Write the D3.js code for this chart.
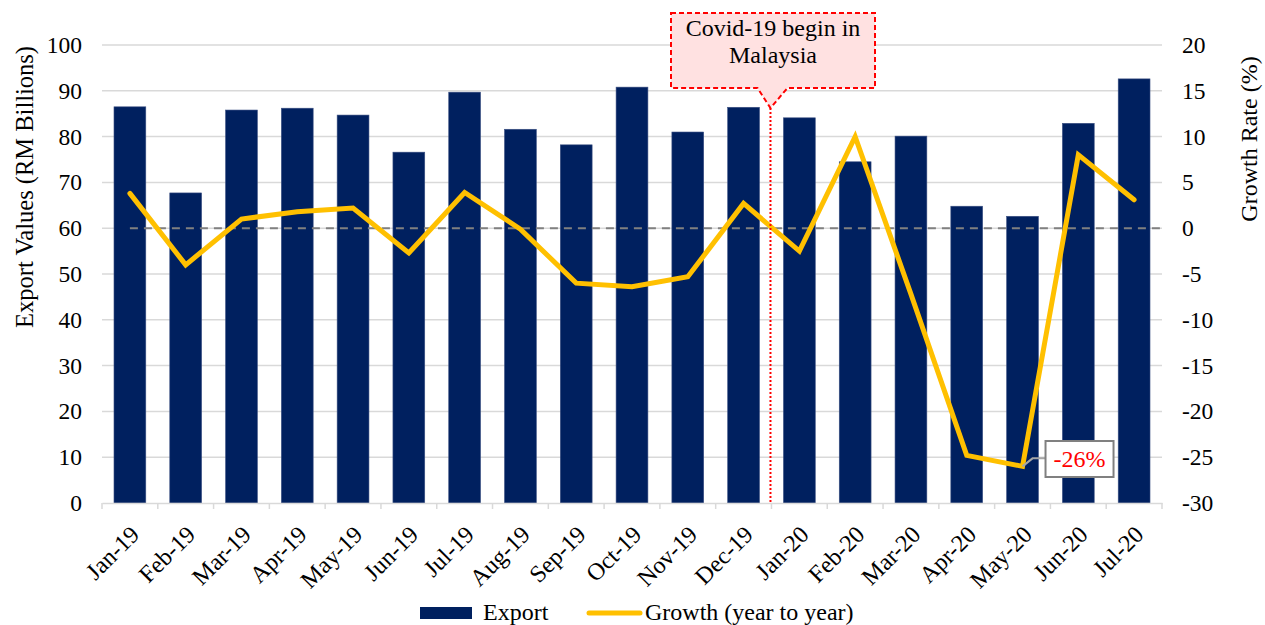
<!DOCTYPE html>
<html><head><meta charset="utf-8">
<script src="https://cdn.jsdelivr.net/npm/d3@7"></script>
<style>
body{margin:0;background:#fff;}
text{font-family:"Liberation Serif","Times New Roman",serif;}
</style></head>
<body><svg id="c" width="1265" height="625"></svg>
<script>
const months = ["Jan-19","Feb-19","Mar-19","Apr-19","May-19","Jun-19","Jul-19","Aug-19","Sep-19","Oct-19","Nov-19","Dec-19","Jan-20","Feb-20","Mar-20","Apr-20","May-20","Jun-20","Jul-20"];
const exportValues = [86.5,67.7,85.8,86.2,84.7,76.6,89.7,81.6,78.2,90.8,81.0,86.4,84.1,74.5,80.1,64.8,62.6,82.9,92.6];
const growthValues = [3.8,-4.0,1.0,1.8,2.2,-2.7,3.9,-0.1,-6.0,-6.4,-5.3,2.7,-2.5,10.0,-7.2,-24.8,-26.0,8.0,3.1];
const leftTicks = [0,10,20,30,40,50,60,70,80,90,100];
const rightTicks = [-30,-25,-20,-15,-10,-5,0,5,10,15,20];
const covidLabel = ["Covid-19 begin in","Malaysia"];
const minLabel = "-26%";

const FS = 24;
const svg = d3.select("#c");
const L = 102, R = 1162, T = 45, B = 503;
const x = d3.scaleBand().domain(months).range([L,R]).paddingInner(0.43).paddingOuter(0.215);
const yL = d3.scaleLinear().domain([0,100]).range([B,T]);
const yR = d3.scaleLinear().domain([-30,20]).range([B,T]);

// gridlines
svg.append("g").selectAll("line").data(leftTicks.filter(d=>d>0)).join("line")
  .attr("x1",L).attr("x2",R).attr("y1",d=>yL(d)).attr("y2",d=>yL(d))
  .attr("stroke","#d9d9d9").attr("stroke-width",1.5);

// bars
svg.append("g").selectAll("rect").data(exportValues).join("rect")
  .attr("x",(d,i)=>x(months[i])).attr("width",x.bandwidth())
  .attr("y",d=>yL(d)).attr("height",d=>B-yL(d))
  .attr("fill","#00205f").attr("stroke","#3a4f82").attr("stroke-width",0.6);

// zero growth dashed line
svg.append("line").attr("x1",x(months[0])+x.bandwidth()/2).attr("x2",R)
  .attr("y1",yR(0)).attr("y2",yR(0))
  .attr("stroke","#808080").attr("stroke-width",2).attr("stroke-dasharray","8,6");

// x axis
const xAxis = svg.append("g").attr("transform",`translate(0,${B})`)
  .call(d3.axisBottom(x).tickSize(0).tickFormat(""));
xAxis.select(".domain").attr("stroke","#d9d9d9").attr("stroke-width",1.5);
const step = x.step();
svg.append("g").selectAll("line").data(d3.range(months.length+1)).join("line")
  .attr("x1",i=>L+i*step).attr("x2",i=>L+i*step).attr("y1",B).attr("y2",B+6)
  .attr("stroke","#d9d9d9").attr("stroke-width",1.5);
svg.append("g").selectAll("text").data(months).join("text")
  .attr("transform",d=>`translate(${x(d)+x.bandwidth()/2+5},${B+27}) rotate(-45)`)
  .attr("text-anchor","end").attr("dy","0.35em")
  .attr("font-size",FS).attr("fill","#000").text(d=>d);

// left axis
const yAxisL = svg.append("g").attr("transform",`translate(${L},0)`)
  .call(d3.axisLeft(yL).tickValues(leftTicks).tickSize(0).tickPadding(20).tickFormat(d=>String(d)));
yAxisL.select(".domain").remove();
yAxisL.selectAll("text").attr("font-size",FS-0.5).attr("fill","#000");

// right axis
const yAxisR = svg.append("g").attr("transform",`translate(${R},0)`)
  .call(d3.axisRight(yR).tickValues(rightTicks).tickSize(0).tickPadding(20).tickFormat(d=>String(d)));
yAxisR.select(".domain").remove();
yAxisR.selectAll("text").attr("font-size",FS-0.5).attr("fill","#000");

// axis titles
svg.append("text").attr("transform","translate(33,187) rotate(-90)")
  .attr("text-anchor","middle").attr("font-size",FS+0.5).text("Export Values (RM Billions)");
svg.append("text").attr("transform","translate(1257,139) rotate(-90)")
  .attr("text-anchor","middle").attr("font-size",FS).text("Growth Rate (%)");

// growth line
const line = d3.line().x((d,i)=>x(months[i])+x.bandwidth()/2).y(d=>yR(d));
svg.append("path").datum(growthValues).attr("d",line)
  .attr("fill","none").attr("stroke","#ffc000").attr("stroke-width",5)
  .attr("stroke-linejoin","miter").attr("stroke-linecap","round");

// covid divider
const divX = L + 12*step - 1;
svg.append("line").attr("x1",divX).attr("x2",divX).attr("y1",108).attr("y2",B)
  .attr("stroke","#ff0000").attr("stroke-width",2).attr("stroke-dasharray","2,2");

// callout
const bx0=671, bx1=875, by0=13, by1=88;
svg.append("path")
  .attr("d",`M${bx0},${by0}H${bx1}V${by1}H${divX+17}L${divX},${108}L${divX-13},${by1}H${bx0}Z`)
  .attr("fill","#ffe1e1").attr("stroke","#ff0000").attr("stroke-width",2).attr("stroke-dasharray","5,3");
svg.append("g").selectAll("text").data(covidLabel).join("text")
  .attr("x",(bx0+bx1)/2).attr("y",(d,i)=>36+i*27).attr("text-anchor","middle")
  .attr("font-size",FS).attr("fill","#000").text(d=>d);

// min label
const mi = growthValues.indexOf(d3.min(growthValues));
const mx = x(months[mi])+x.bandwidth()/2, my = yR(growthValues[mi]);
svg.append("path").attr("d",`M${mx},${my}L${mx+10},${my-8}H${mx+23}`)
  .attr("fill","none").attr("stroke","#a6a6a6").attr("stroke-width",2);
svg.append("rect").attr("x",mx+23).attr("y",441).attr("width",68).attr("height",36)
  .attr("fill","#fff").attr("stroke","#808080").attr("stroke-width",2);
svg.append("text").attr("x",mx+57).attr("y",467).attr("text-anchor","middle")
  .attr("font-size",FS).attr("fill","#ff0000").text(minLabel);

// legend
const lg = svg.append("g");
lg.append("rect").attr("x",420).attr("y",607).attr("width",52).attr("height",12).attr("fill","#00205f");
lg.append("text").attr("x",483).attr("y",620).attr("font-size",FS).text("Export");
lg.append("line").attr("x1",589).attr("x2",640).attr("y1",613).attr("y2",613)
  .attr("stroke","#ffc000").attr("stroke-width",5).attr("stroke-linecap","round");
lg.append("text").attr("x",645).attr("y",620).attr("font-size",FS).text("Growth (year to year)");
</script></body></html>
